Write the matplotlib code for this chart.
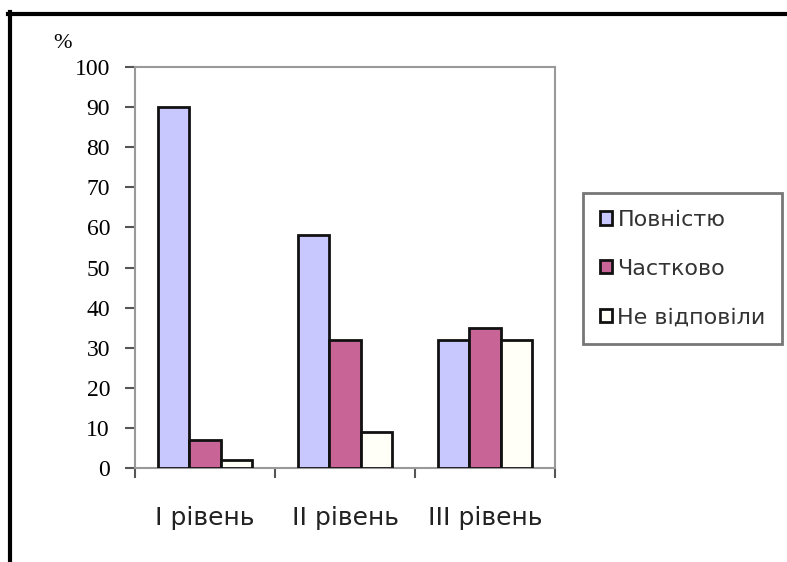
import matplotlib
matplotlib.use("Agg")
import matplotlib.pyplot as plt
import numpy as np
from matplotlib.lines import Line2D

categories = ["I рівень", "II рівень", "III рівень"]
series_names = ["Повністю", "Частково", "Не відповіли"]
povnistyu = [90, 58, 32]
chastkovo = [7, 32, 35]
ne_vidpovily = [2, 9, 32]
yticks = [0, 10, 20, 30, 40, 50, 60, 70, 80, 90, 100]

colors = ["#C8C8FF", "#C86496", "#FFFFF8"]
W, H = 787, 562
fig = plt.figure(figsize=(W / 100, H / 100), dpi=100)
fig.patch.set_facecolor("white")

# axes: left 135, right 555, top 67, bottom 468 (pixels)
ax = fig.add_axes([135 / W, 1 - 468 / H, (555 - 135) / W, (468 - 67) / H])

x = np.arange(len(categories))
bw = 0.225
data = [povnistyu, chastkovo, ne_vidpovily]
handles = []
for i, (vals, c, name) in enumerate(zip(data, colors, series_names)):
    b = ax.bar(x + (i - 1) * bw, vals, width=bw, color=c, edgecolor="#111111",
               linewidth=2.0, label=name, zorder=3)
    handles.append(b)

ax.set_xlim(-0.5, 2.5)
ax.set_ylim(0, 100)
ax.set_yticks(yticks)
ax.set_yticklabels([str(v) for v in yticks], fontfamily="Liberation Serif", fontsize=17)
ax.tick_params(axis="y", length=7, width=1.5, color="#555555", pad=11)

ax.set_xticks([-0.5, 0.5, 1.5, 2.5])
ax.set_xticklabels([])
ax.tick_params(axis="x", length=7, width=1.5, color="#555555", direction="out")
for xi, lab in zip(x, categories):
    ax.text(xi, -12.5, lab, ha="center", va="center", fontsize=18,
            fontfamily="DejaVu Sans", color="#222222")

for s in ax.spines.values():
    s.set_color("#999999")
    s.set_linewidth(1.5)

fig.text(62 / W, 1 - 43 / H, "%", fontfamily="Liberation Serif", fontsize=16,
         ha="center", va="center")

leg = fig.legend(handles=handles, labels=series_names, loc="upper left",
                 bbox_to_anchor=(583 / W, 1 - 193 / H), frameon=True,
                 fancybox=False, edgecolor="#777777", framealpha=1,
                 prop={"family": "DejaVu Sans", "size": 16},
                 handlelength=0.55, handleheight=0.55, handletextpad=0.25,
                 labelspacing=1.3, borderpad=0.75, borderaxespad=0)
leg.get_frame().set_linewidth(2.0)
for t in leg.get_texts():
    t.set_color("#333333")

# outer frame (left and top edges)
fig.add_artist(Line2D([9.5 / W, 9.5 / W], [0, 1 - 12 / H], color="black", lw=3,
                      transform=fig.transFigure))
fig.add_artist(Line2D([8 / W, 1], [1 - 13.5 / H, 1 - 13.5 / H], color="black", lw=3,
                      transform=fig.transFigure))

fig.savefig("out.png", dpi=100)
